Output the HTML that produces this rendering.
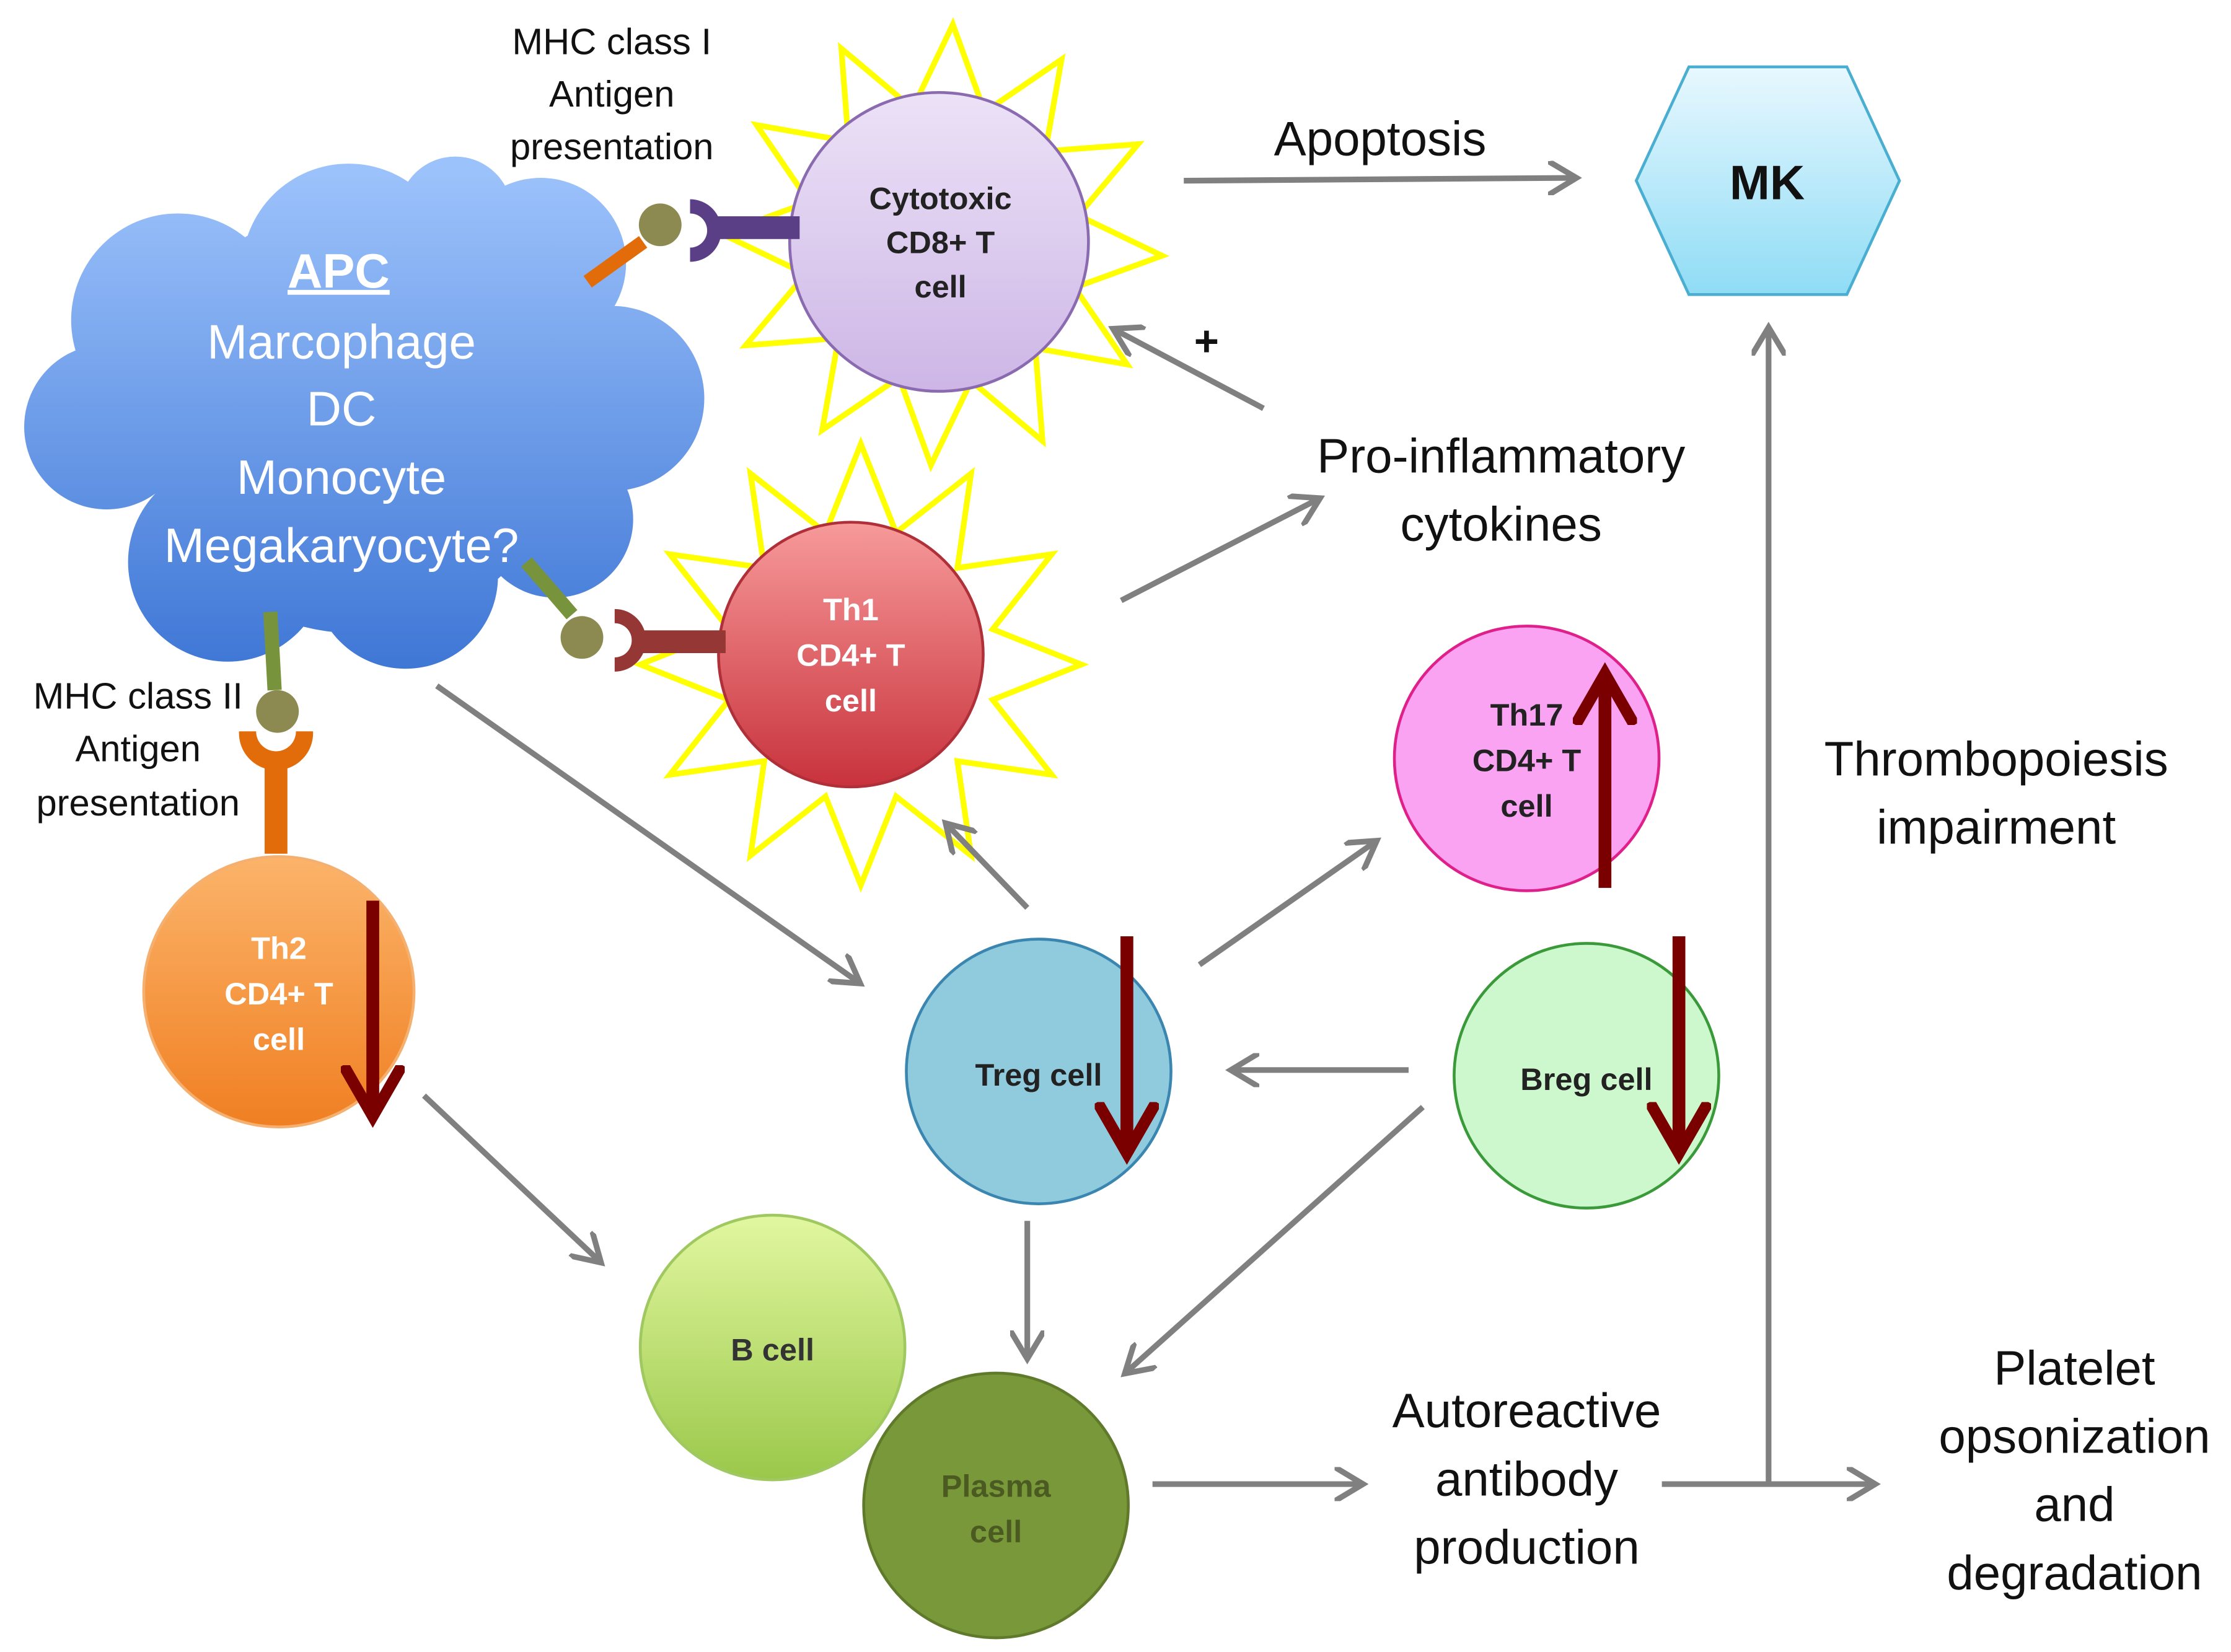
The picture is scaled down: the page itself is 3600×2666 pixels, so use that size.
<!DOCTYPE html>
<html><head><meta charset="utf-8"><style>html,body{margin:0;padding:0;background:#fff}svg{display:block}</style></head>
<body>
<svg id="s" xmlns="http://www.w3.org/2000/svg" width="3600" height="2666" viewBox="0 0 1568 1161" preserveAspectRatio="none" font-family="Liberation Sans, sans-serif">
<defs>
<linearGradient id="cg" gradientUnits="userSpaceOnUse" x1="0" y1="120" x2="0" y2="470"><stop offset="0" stop-color="#9cc2fb"/><stop offset="1" stop-color="#3f77d6"/></linearGradient>
<linearGradient id="th1" x1="0" y1="0" x2="0" y2="1"><stop offset="0" stop-color="#f79a9a"/><stop offset="1" stop-color="#c8323c"/></linearGradient>
<linearGradient id="th2" x1="0" y1="0" x2="0" y2="1"><stop offset="0" stop-color="#fbb46a"/><stop offset="1" stop-color="#f07f22"/></linearGradient>
<linearGradient id="bc" x1="0" y1="0" x2="0" y2="1"><stop offset="0" stop-color="#e2f7a0"/><stop offset="1" stop-color="#9ac84a"/></linearGradient>
<linearGradient id="mk" x1="0" y1="0" x2="0" y2="1"><stop offset="0" stop-color="#e8f8ff"/><stop offset="1" stop-color="#8fdcf5"/></linearGradient>
<linearGradient id="cy" x1="0" y1="0" x2="0" y2="1"><stop offset="0" stop-color="#ece2f7"/><stop offset="1" stop-color="#cdb6e6"/></linearGradient>
<marker id="ga" markerWidth="6" markerHeight="6" refX="4.5" refY="3" orient="auto" markerUnits="strokeWidth"><path d="M0,0 L5,3 L0,6" fill="none" stroke="#808080" stroke-width="1"/></marker>
<marker id="ra" markerWidth="5" markerHeight="5" refX="3.5" refY="2.5" orient="auto" markerUnits="strokeWidth"><path d="M0,0.2 L4,2.5 L0,4.8" fill="none" stroke="#7a0000" stroke-width="0.9"/></marker>
</defs>

<!-- cloud -->
<g fill="url(#cg)">
<circle cx="125" cy="225" r="75"/><circle cx="245" cy="190" r="75"/><circle cx="380" cy="185" r="60"/><circle cx="430" cy="280" r="65"/><circle cx="390" cy="365" r="55"/><circle cx="285" cy="405" r="65"/><circle cx="160" cy="395" r="70"/><circle cx="75" cy="300" r="58"/><circle cx="250" cy="295" r="150"/><circle cx="320" cy="150" r="40"/>
</g>
<g fill="#fff" font-size="34" text-anchor="middle">
<text x="238" y="202" font-weight="bold" text-decoration="underline">APC</text>
<text x="240" y="252">Marcophage</text><text x="240" y="299">DC</text><text x="240" y="347">Monocyte</text><text x="240" y="395">Megakaryocyte?</text>
</g>

<!-- stars -->
<polygon id="st1" fill="none" stroke="#ffff00" stroke-width="4" stroke-linejoin="miter"/>
<circle cx="660" cy="170" r="105" fill="url(#cy)" stroke="#8a6bb0" stroke-width="2"/>
<polygon id="st2" fill="none" stroke="#ffff00" stroke-width="4"/>
<circle cx="598" cy="460" r="93" fill="url(#th1)" stroke="#b0303a" stroke-width="2"/>
<g font-size="22" font-weight="bold" text-anchor="middle" fill="#222">
<text x="661" y="147">Cytotoxic</text><text x="661" y="178">CD8+ T</text><text x="661" y="209">cell</text>
</g>
<g font-size="22" font-weight="bold" text-anchor="middle" fill="#fff">
<text x="598" y="436">Th1</text><text x="598" y="468">CD4+ T</text><text x="598" y="500">cell</text>
</g>

<!-- receptors -->
<line x1="413" y1="198" x2="452" y2="170" stroke="#e36c0a" stroke-width="10"/>
<rect x="500" y="152" width="62" height="16" fill="#5b3f86"/>
<path d="M485,140 A22,22 0 0 1 485,184 L485,174 A12,12 0 0 0 485,150 Z" fill="#5b3f86" transform="rotate(0)"/>
<circle cx="464" cy="158" r="15" fill="#8c8a50"/>
<line x1="370" y1="395" x2="402" y2="432" stroke="#77933c" stroke-width="10"/>
<rect x="448" y="443" width="62" height="16" fill="#953735"/>
<path d="M432,428 A22,22 0 0 1 432,472 L432,462 A12,12 0 0 0 432,438 Z" fill="#953735"/>
<circle cx="409" cy="448" r="15" fill="#8c8a50"/>
<line x1="190" y1="430" x2="193" y2="485" stroke="#77933c" stroke-width="10"/>
<circle cx="195" cy="500" r="15" fill="#8c8a50"/>
<path d="M168,514 L180,514 A14,14 0 0 0 208,514 L220,514 A26,26 0 0 1 202,540 L202,600 L186,600 L186,540 A26,26 0 0 1 168,514 Z" fill="#e36c0a"/>

<!-- cells -->
<circle cx="196" cy="697" r="95" fill="url(#th2)" stroke="#f5b070" stroke-width="2"/>
<g font-size="22" font-weight="bold" text-anchor="middle" fill="#fff"><text x="196" y="674">Th2</text><text x="196" y="706">CD4+ T</text><text x="196" y="738">cell</text></g>
<circle cx="730" cy="753" r="93" fill="#8fcadd" stroke="#3a86b0" stroke-width="2"/>
<text x="730" y="763" font-size="22" font-weight="bold" text-anchor="middle" fill="#222">Treg cell</text>
<circle cx="1115" cy="756" r="93" fill="#cdf7cc" stroke="#3a9a3a" stroke-width="2"/>
<text x="1115" y="766" font-size="22" font-weight="bold" text-anchor="middle" fill="#222">Breg cell</text>
<circle cx="1073" cy="533" r="93" fill="#f9a3f2" stroke="#e0208a" stroke-width="2"/>
<g font-size="22" font-weight="bold" text-anchor="middle" fill="#222"><text x="1073" y="510">Th17</text><text x="1073" y="542">CD4+ T</text><text x="1073" y="574">cell</text></g>
<circle cx="543" cy="947" r="93" fill="url(#bc)" stroke="#a0c860" stroke-width="2"/>
<text x="543" y="956" font-size="22" font-weight="bold" text-anchor="middle" fill="#333">B cell</text>
<circle cx="700" cy="1058" r="93" fill="#78983a" stroke="#5e7a2a" stroke-width="2"/>
<g font-size="22" font-weight="bold" text-anchor="middle" fill="#4a5a20"><text x="700" y="1052">Plasma</text><text x="700" y="1084">cell</text></g>

<!-- MK -->
<polygon points="1150,127 1187,47 1298,47 1335,127 1298,207 1187,207" fill="url(#mk)" stroke="#4aaed0" stroke-width="2"/>
<text x="1242" y="140" font-size="34" font-weight="bold" text-anchor="middle" fill="#111">MK</text>

<!-- gray arrows -->
<g stroke="#808080" stroke-width="4" marker-end="url(#ga)" fill="none">
<line x1="832" y1="127" x2="1106" y2="125"/>
<line x1="888" y1="287" x2="784" y2="232"/>
<line x1="788" y1="422" x2="926" y2="351"/>
<line x1="307" y1="482" x2="603" y2="690"/>
<line x1="722" y1="638" x2="666" y2="580"/>
<line x1="843" y1="678" x2="966" y2="592"/>
<line x1="990" y1="752" x2="867" y2="752"/>
<line x1="1000" y1="778" x2="792" y2="964"/>
<line x1="722" y1="858" x2="722" y2="953"/>
<line x1="298" y1="770" x2="421" y2="886"/>
<line x1="810" y1="1043" x2="956" y2="1043"/>
<line x1="1168" y1="1043" x2="1316" y2="1043"/>
<line x1="1243" y1="1043" x2="1243" y2="232"/>
</g>
<text x="848" y="250" font-size="30" font-weight="bold" text-anchor="middle" fill="#111">+</text>

<!-- red arrows -->
<g stroke="#7a0000" stroke-width="9" marker-end="url(#ra)" fill="none">
<line x1="262" y1="633" x2="262" y2="780"/>
<line x1="792" y1="658" x2="792" y2="806"/>
<line x1="1180" y1="658" x2="1180" y2="806"/>
<line x1="1128" y1="624" x2="1128" y2="478"/>
</g>

<!-- labels -->
<g font-size="26" text-anchor="middle" fill="#111">
<text x="430" y="38">MHC class I</text><text x="430" y="75">Antigen</text><text x="430" y="112">presentation</text>
<text x="97" y="498">MHC class II</text><text x="97" y="535">Antigen</text><text x="97" y="573">presentation</text>
</g>
<g font-size="34" text-anchor="middle" fill="#111">
<text x="970" y="109">Apoptosis</text>
<text x="1055" y="332">Pro-inflammatory</text><text x="1055" y="380">cytokines</text>
<text x="1403" y="545">Thrombopoiesis</text><text x="1403" y="593">impairment</text>
<text x="1073" y="1003">Autoreactive</text><text x="1073" y="1051">antibody</text><text x="1073" y="1099">production</text>
<text x="1458" y="973">Platelet</text><text x="1458" y="1021">opsonization</text><text x="1458" y="1069">and</text><text x="1458" y="1117">degradation</text>
</g>
</svg>
<script>
function star(id,cx,cy,R,r,n,rot){var p=[];for(var i=0;i<2*n;i++){var a=rot+Math.PI*i/n;var rr=i%2?r:R;p.push((cx+rr*Math.sin(a)).toFixed(1)+","+(cy-rr*Math.cos(a)).toFixed(1));}document.getElementById(id).setAttribute("points",p.join(" "));}
star("st1",662,172,155,98,12,0.05);
star("st2",605,467,155,96,12,0.0);
</script>
</body></html>
